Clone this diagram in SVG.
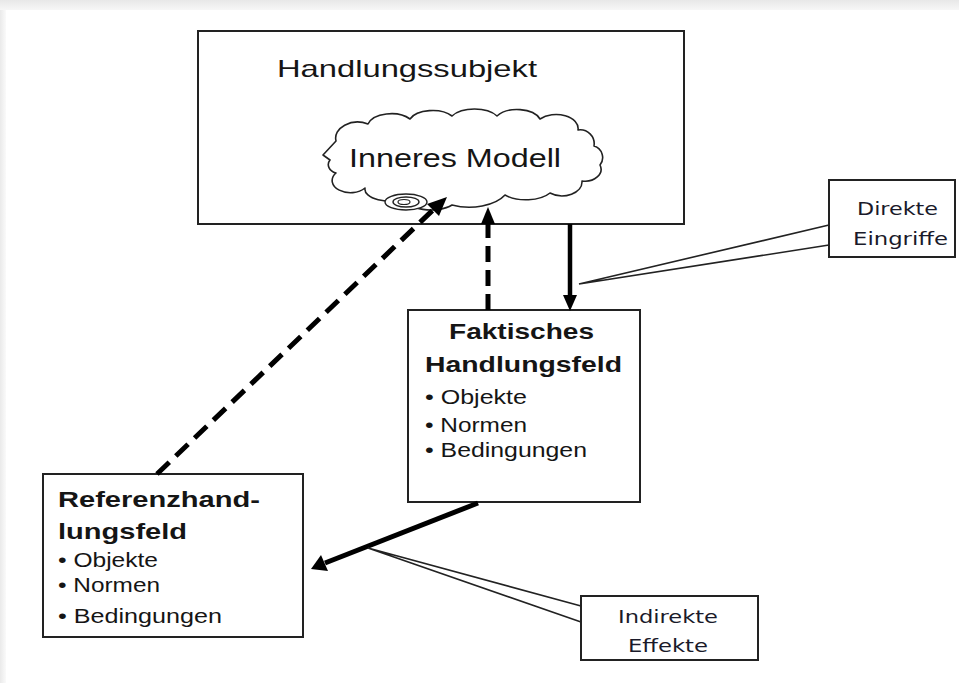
<svg xmlns="http://www.w3.org/2000/svg" width="959" height="683" viewBox="0 0 959 683">
<defs>
<style>
.box{fill:#fff;stroke:#222;stroke-width:2}
.t{font-family:"Liberation Sans",Arial,sans-serif;fill:#151515}
.b{font-weight:bold}
.c{font-family:"DejaVu Sans","Liberation Sans",sans-serif;fill:#1a1a2a;font-size:18px}
.solid{stroke:#000;stroke-width:4.5;fill:none}
.dash{stroke:#000;stroke-width:5;fill:none;stroke-dasharray:17 9}
.call{stroke:#222;stroke-width:1.6;fill:none}
.head{fill:#000}
</style>
<linearGradient id="gt" x1="0" y1="0" x2="0" y2="1"><stop offset="0" stop-color="#e8e8e8"/><stop offset="1" stop-color="#f7f7f7"/></linearGradient>
<linearGradient id="gl" x1="0" y1="0" x2="1" y2="0"><stop offset="0" stop-color="#eaeaea"/><stop offset="1" stop-color="#fafafa"/></linearGradient>
</defs>
<rect x="0" y="0" width="959" height="683" fill="#fff"/>
<rect x="0" y="0" width="959" height="10" fill="url(#gt)"/>
<rect x="0" y="10" width="6" height="673" fill="url(#gl)"/>

<g id="handlungssubjekt">
<rect class="box" x="198" y="31" width="486" height="193"/>
<text class="t" x="277" y="77" font-size="24" textLength="260" lengthAdjust="spacingAndGlyphs">Handlungssubjekt</text>
</g>

<g id="inneres-modell">
<path d="M336 141 A22 16 0 0 1 368 124 A24 14 0 0 1 410 119 A24 13 0 0 1 452 116 A26 14 0 0 1 497 116 A24 14 0 0 1 540 119 A22 14 0 0 1 578 130 A14 14 0 0 1 594 146 A12 12 0 0 1 600 165 A16 12 0 0 1 582 181 A20 14 0 0 1 550 193 A28 14 0 0 1 505 195 A40 22 0 0 1 452 205 A26 12 0 0 1 405 198 A24 12 0 0 1 365 188 A18 12 0 0 1 336 173 A12 9 0 0 1 330 160 L323 155 L336 141 Z" fill="#fff" stroke="#222" stroke-width="1.6" stroke-linejoin="round"/>
<ellipse cx="406" cy="202" rx="21" ry="8" fill="#fff" stroke="#222" stroke-width="1.4"/>
<ellipse cx="406" cy="202" rx="13" ry="5" fill="none" stroke="#222" stroke-width="1.4"/>
<ellipse cx="404" cy="202" rx="6" ry="2.5" fill="none" stroke="#222" stroke-width="1.2"/>
<text class="t" x="349" y="167" font-size="26" textLength="212" lengthAdjust="spacingAndGlyphs">Inneres Modell</text>
</g>

<g id="faktisches-handlungsfeld">
<rect class="box" x="408" y="310" width="232" height="192"/>
<text class="t b" x="449" y="339" font-size="22" textLength="145" lengthAdjust="spacingAndGlyphs">Faktisches</text>
<text class="t b" x="425" y="372" font-size="22" textLength="197" lengthAdjust="spacingAndGlyphs">Handlungsfeld</text>
<text class="t" x="425" y="404" font-size="20" textLength="102" lengthAdjust="spacingAndGlyphs">• Objekte</text>
<text class="t" x="425" y="432" font-size="20" textLength="102" lengthAdjust="spacingAndGlyphs">• Normen</text>
<text class="t" x="425" y="457" font-size="20" textLength="162" lengthAdjust="spacingAndGlyphs">• Bedingungen</text>
</g>

<g id="referenzhandlungsfeld">
<rect class="box" x="43" y="474" width="260" height="163"/>
<text class="t b" x="58" y="507" font-size="22" textLength="202" lengthAdjust="spacingAndGlyphs">Referenzhand-</text>
<text class="t b" x="58" y="539" font-size="22" textLength="129" lengthAdjust="spacingAndGlyphs">lungsfeld</text>
<text class="t" x="58" y="567" font-size="20" textLength="100" lengthAdjust="spacingAndGlyphs">• Objekte</text>
<text class="t" x="58" y="592" font-size="20" textLength="102" lengthAdjust="spacingAndGlyphs">• Normen</text>
<text class="t" x="58" y="623" font-size="20" textLength="164" lengthAdjust="spacingAndGlyphs">• Bedingungen</text>
</g>

<g id="direkte-eingriffe">
<rect class="box" x="829" y="180" width="126" height="77"/>
<text class="c" x="857" y="215" textLength="81" lengthAdjust="spacingAndGlyphs">Direkte</text>
<text class="c" x="853" y="245" textLength="95" lengthAdjust="spacingAndGlyphs">Eingriffe</text>
</g>

<g id="indirekte-effekte">
<rect class="box" x="581" y="596" width="177" height="64"/>
<text class="c" x="618" y="623" textLength="100" lengthAdjust="spacingAndGlyphs">Indirekte</text>
<text class="c" x="628" y="652" textLength="80" lengthAdjust="spacingAndGlyphs">Effekte</text>
</g>

<g id="connectors">
<line class="solid" x1="570" y1="224" x2="570" y2="297"/>
<polygon class="head" points="563,295 577,295 570,311"/>
<line class="dash" x1="488" y1="310" x2="488" y2="222" style="stroke-dasharray:16 8"/>
<polygon class="head" points="481,224 495,224 488,207"/>
<line class="dash" x1="157" y1="474" x2="434" y2="209"/>
<polygon class="head" points="427,204 439,216 447,197"/>
<line class="solid" x1="478" y1="503" x2="325" y2="563" style="stroke-width:5"/>
<polygon class="head" points="321,555 328,571 311,569"/>
<polyline class="call" points="829,225 579,284 829,245"/>
<polyline class="call" points="581,606 368,548 581,622"/>
</g>
</svg>
